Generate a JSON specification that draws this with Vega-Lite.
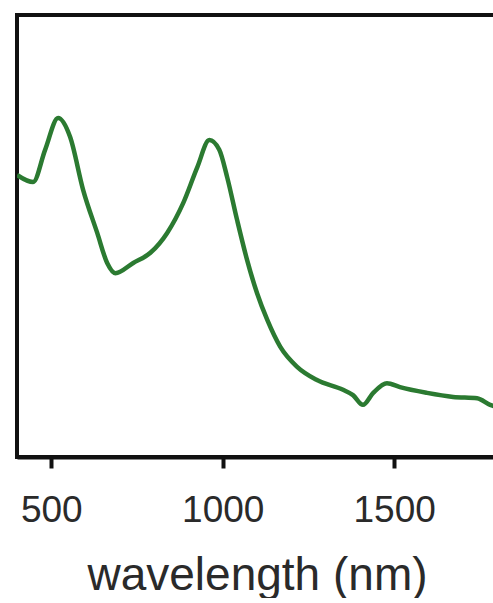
{
  "$schema": "https://vega.github.io/schema/vega-lite/v6.json",
  "width": 480,
  "height": 442,
  "padding": {"left": 17, "top": 15, "right": 0, "bottom": 0},
  "background": "white",
  "config": {
    "view": {"stroke": "#111111", "strokeWidth": 4},
    "font": "Liberation Sans"
  },
  "data": {
    "values": [
      {"wavelength": 400, "absorbance": 0.638},
      {"wavelength": 447, "absorbance": 0.622},
      {"wavelength": 482, "absorbance": 0.695},
      {"wavelength": 520, "absorbance": 0.767},
      {"wavelength": 555, "absorbance": 0.724},
      {"wavelength": 593, "absorbance": 0.604},
      {"wavelength": 634, "absorbance": 0.507},
      {"wavelength": 663, "absorbance": 0.439},
      {"wavelength": 687, "absorbance": 0.416},
      {"wavelength": 739, "absorbance": 0.439},
      {"wavelength": 789, "absorbance": 0.462},
      {"wavelength": 838, "absorbance": 0.507},
      {"wavelength": 885, "absorbance": 0.575},
      {"wavelength": 926, "absorbance": 0.656},
      {"wavelength": 961, "absorbance": 0.717},
      {"wavelength": 990, "absorbance": 0.695},
      {"wavelength": 1013, "absorbance": 0.633},
      {"wavelength": 1042, "absorbance": 0.536},
      {"wavelength": 1071, "absorbance": 0.446},
      {"wavelength": 1100, "absorbance": 0.371},
      {"wavelength": 1130, "absorbance": 0.31},
      {"wavelength": 1168, "absorbance": 0.249},
      {"wavelength": 1217, "absorbance": 0.204},
      {"wavelength": 1275, "absorbance": 0.174},
      {"wavelength": 1351, "absorbance": 0.152},
      {"wavelength": 1380, "absorbance": 0.14},
      {"wavelength": 1409, "absorbance": 0.118},
      {"wavelength": 1439, "absorbance": 0.145},
      {"wavelength": 1479, "absorbance": 0.167},
      {"wavelength": 1517, "absorbance": 0.158},
      {"wavelength": 1596, "absorbance": 0.145},
      {"wavelength": 1672, "absorbance": 0.136},
      {"wavelength": 1742, "absorbance": 0.133},
      {"wavelength": 1780, "absorbance": 0.118},
      {"wavelength": 1800, "absorbance": 0.113}
    ]
  },
  "mark": {"type": "line", "color": "#2b7a31", "strokeWidth": 4.5, "interpolate": "monotone", "clip": true},
  "encoding": {
    "x": {
      "field": "wavelength",
      "type": "quantitative",
      "scale": {"domain": [400, 1800], "nice": false, "zero": false},
      "axis": {
        "title": "wavelength (nm)",
        "values": [500, 1000, 1500],
        "format": "d",
        "grid": false,
        "domainColor": "#111111",
        "domainWidth": 4,
        "tickColor": "#111111",
        "tickWidth": 4,
        "tickSize": 11,
        "labelFontSize": 37,
        "labelColor": "#2a2a2a",
        "labelPadding": 24,
        "titleFontSize": 46,
        "titleFontWeight": "normal",
        "titleColor": "#2a2a2a",
        "titlePadding": 25
      }
    },
    "y": {
      "field": "absorbance",
      "type": "quantitative",
      "scale": {"domain": [0, 1], "nice": false},
      "axis": null
    }
  }
}
